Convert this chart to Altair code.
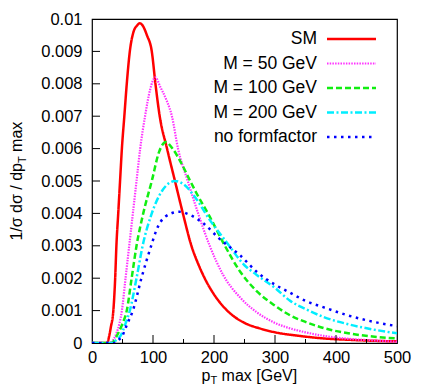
import altair as alt
import pandas as pd

# ---- data ----
sm_x = [0, 25, 28, 31, 35, 38, 40, 43, 46, 49, 53, 57, 62, 68, 74, 78, 83, 90, 98, 104, 111, 123, 136, 149, 163, 175, 188, 200, 215, 230, 250, 275, 300, 340, 380, 420, 460, 500]
sm_y = [0, 0, 0.0002, 0.0005, 0.001, 0.002, 0.003, 0.004, 0.005, 0.006, 0.007, 0.008, 0.009, 0.0096, 0.0098, 0.00987, 0.0098, 0.0095, 0.009, 0.008, 0.007, 0.006, 0.005, 0.004, 0.003, 0.0024, 0.00188, 0.0015, 0.00113, 0.00086, 0.00062, 0.00045, 0.00033, 0.00022, 0.00014, 0.0001, 0.00007, 0.00005]

m50_x = [0, 28, 35, 40, 45, 49, 55, 61, 67, 73, 79, 87, 95, 104, 112, 122, 131, 141, 157, 174, 193, 215, 243, 270, 300, 325, 350, 380, 420, 460, 500]
m50_y = [0, 0, 0.0001, 0.0003, 0.0006, 0.001, 0.002, 0.003, 0.004, 0.005, 0.006, 0.007, 0.0078, 0.0082, 0.0079, 0.0075, 0.007, 0.006, 0.005, 0.004, 0.003, 0.0021, 0.0014, 0.00095, 0.00062, 0.00045, 0.00033, 0.00022, 0.00013, 0.00008, 0.00004]

m100_x = [0, 32, 40, 50, 57, 65, 73, 84, 98, 110, 121, 132, 145, 161, 172, 193, 215, 243, 270, 300, 325, 350, 380, 420, 460, 500]
m100_y = [0, 0, 0.0002, 0.0006, 0.001, 0.002, 0.003, 0.004, 0.005, 0.0059, 0.0062, 0.006, 0.0056, 0.005, 0.0046, 0.0039, 0.0031, 0.0022, 0.0016, 0.00115, 0.00085, 0.00065, 0.00046, 0.0003, 0.0002, 0.00014]

m200_x = [0, 34, 40, 46, 55, 62, 73, 83, 98, 115, 136, 150, 169, 193, 221, 250, 270, 300, 325, 350, 380, 420, 460, 500]
m200_y = [0, 0, 0.0001, 0.0002, 0.0006, 0.001, 0.002, 0.003, 0.004, 0.0047, 0.005, 0.0049, 0.0045, 0.0038, 0.0031, 0.0024, 0.0021, 0.0017, 0.0013, 0.00105, 0.0008, 0.00058, 0.00042, 0.0003]

noff_x = [0, 38, 44, 49, 58, 67, 81, 97, 106, 120, 143, 161, 182, 210, 243, 270, 300, 325, 350, 380, 420, 460, 500]
noff_y = [0, 0, 0.0001, 0.0002, 0.0006, 0.001, 0.002, 0.003, 0.0035, 0.0039, 0.00405, 0.00395, 0.0037, 0.0032, 0.0027, 0.0022, 0.0018, 0.00155, 0.0013, 0.0011, 0.00085, 0.00066, 0.00052]

series_names = ["SM", "M = 50 GeV", "M = 100 GeV", "M = 200 GeV", "no formfactor"]
series_xs = [sm_x, m50_x, m100_x, m200_x, noff_x]
series_ys = [sm_y, m50_y, m100_y, m200_y, noff_y]

x_major = [100, 200, 300, 400]
x_minor = [50, 150, 250, 350, 450]
x_labels = [0, 100, 200, 300, 400, 500]
y_ticks = [0.001, 0.002, 0.003, 0.004, 0.005, 0.006, 0.007, 0.008, 0.009]
y_labels = [0, 0.001, 0.002, 0.003, 0.004, 0.005, 0.006, 0.007, 0.008, 0.009, 0.01]

# ---- styles ----
colors = ["#ff0000", "#ff33ff", "#11ee11", "#00eeff", "#0000ff"]
dashes = [[1, 0], [1.5, 1.2], [6, 3], [7, 2.5, 2, 2.5], [2.5, 4.5]]
widths = [2.5, 2.2, 2.5, 2.5, 2.5]

W, H = 305, 324
FONT = "Liberation Sans"
FS = 16.5
LFS = 17.5

xscale = alt.Scale(domain=[0, 500], nice=False, zero=False)
yscale = alt.Scale(domain=[0, 0.01], nice=False, zero=False)

x_axis = alt.Axis(values=x_labels, format="d", title=None, ticks=False, domain=False, grid=False,
                  labelFlush=False, labelPadding=6, labelFontSize=FS, labelFont=FONT, labelColor="black")
y_axis = alt.Axis(values=y_labels, format="~g", title=None, ticks=False, domain=False, grid=False,
                  labelFlush=False, labelPadding=10, labelFontSize=FS, labelFont=FONT, labelColor="black")

layers = []
for i, (name, xs, ys) in enumerate(zip(series_names, series_xs, series_ys)):
    df = pd.DataFrame({"x": xs, "y": ys})
    layers.append(
        alt.Chart(df).mark_line(color=colors[i], strokeDash=dashes[i], strokeWidth=widths[i],
                                interpolate="monotone", clip=True)
        .encode(x=alt.X("x:Q", scale=xscale, axis=x_axis),
                y=alt.Y("y:Q", scale=yscale, axis=y_axis))
    )

# inward tick marks
layers.append(alt.Chart(pd.DataFrame({"x": x_major})).mark_rule(color="black", strokeWidth=1)
              .encode(x=alt.X("x:Q", scale=xscale, axis=x_axis), y=alt.value(H), y2=alt.value(H - 8)))
layers.append(alt.Chart(pd.DataFrame({"x": x_minor})).mark_rule(color="black", strokeWidth=1)
              .encode(x=alt.X("x:Q", scale=xscale, axis=x_axis), y=alt.value(H), y2=alt.value(H - 4)))
layers.append(alt.Chart(pd.DataFrame({"y": y_ticks})).mark_rule(color="black", strokeWidth=1)
              .encode(y=alt.Y("y:Q", scale=yscale, axis=y_axis), x=alt.value(0), x2=alt.value(8)))

# legend (labels left of samples, inside the frame)
leg_y0, leg_dy = 20, 24.5
for i, name in enumerate(series_names):
    one = pd.DataFrame({"a": [0]})
    yy = leg_y0 + leg_dy * i
    layers.append(alt.Chart(one).mark_text(text=name, align="right", baseline="middle",
                                           font=FONT, fontSize=LFS, color="black")
                  .encode(x=alt.value(225), y=alt.value(yy)))
    layers.append(alt.Chart(one).mark_rule(color=colors[i], strokeDash=dashes[i], strokeWidth=widths[i])
                  .encode(x=alt.value(235), x2=alt.value(284), y=alt.value(yy)))

one = pd.DataFrame({"a": [0]})
TFS = 16
SP = 4.4  # width of a space at TFS
# y-axis title: "1/σ dσ / dp_T max"
yT = 144
layers.append(alt.Chart(one).mark_text(text="1/σ dσ / dp", angle=270, align="right", baseline="alphabetic",
                                       font=FONT, fontSize=TFS, color="black")
              .encode(x=alt.value(-70), y=alt.value(yT)))
layers.append(alt.Chart(one).mark_text(text="T", angle=270, align="left", baseline="alphabetic",
                                       font=FONT, fontSize=11, color="black")
              .encode(x=alt.value(-66.5), y=alt.value(yT)))
layers.append(alt.Chart(one).mark_text(text="max", angle=270, align="left", baseline="alphabetic",
                                       font=FONT, fontSize=TFS, color="black")
              .encode(x=alt.value(-70), y=alt.value(yT - 6.7 - SP)))
# x-axis title: "p_T max [GeV]"
xT = 118.5
xb = 361.5
layers.append(alt.Chart(one).mark_text(text="p", align="right", baseline="alphabetic",
                                       font=FONT, fontSize=TFS, color="black")
              .encode(x=alt.value(xT), y=alt.value(xb)))
layers.append(alt.Chart(one).mark_text(text="T", align="left", baseline="alphabetic",
                                       font=FONT, fontSize=11, color="black")
              .encode(x=alt.value(xT), y=alt.value(xb + 3)))
layers.append(alt.Chart(one).mark_text(text="max [GeV]", align="left", baseline="alphabetic",
                                       font=FONT, fontSize=TFS, color="black")
              .encode(x=alt.value(xT + 6.7 + SP), y=alt.value(xb)))

chart = alt.layer(*layers).properties(
    width=W, height=H,
    autosize=alt.AutoSizeParams(type="none"),
    padding={"left": 84, "top": 11, "right": 15, "bottom": 41},
    background="white",
).configure_view(stroke="black", strokeWidth=1.2)

chart.save("out.html", embed_options={"renderer": "svg", "actions": False})
